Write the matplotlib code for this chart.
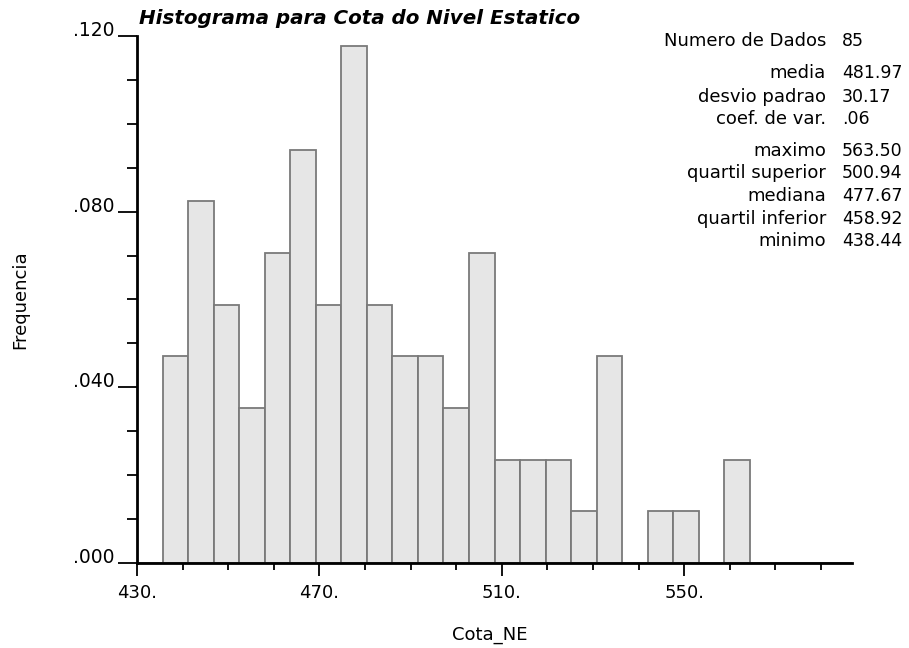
import matplotlib
matplotlib.use("Agg")
import matplotlib.pyplot as plt
from matplotlib.ticker import MultipleLocator, FixedLocator

# Dados do histograma (contagens por classe, 28 classes a partir de 430)
bin_start = 430.0
bin_width = 5.6
counts = [0, 4, 7, 5, 3, 6, 8, 5, 10, 5, 4, 4, 3, 6, 2, 2, 2, 1, 4, 0, 1, 1, 0, 2, 0, 0, 0, 0]
n_dados = 85

x_major = [430, 470, 510, 550]
x_major_labels = ["430.", "470.", "510.", "550."]
y_major = [0.0, 0.04, 0.08, 0.12]
y_major_labels = [".000", ".040", ".080", ".120"]

stats_labels = ["Numero de Dados", "media", "desvio padrao", "coef. de var.",
                "maximo", "quartil superior", "mediana", "quartil inferior", "minimo"]
stats_values = ["85", "481.97", "30.17", ".06",
                "563.50", "500.94", "477.67", "458.92", "438.44"]
stats_rows_px = [41.5, 73, 97, 119.5, 151, 173.5, 196, 219, 241.5]

W, H = 909, 648
plt.rcParams["font.family"] = "DejaVu Sans"
fig = plt.figure(figsize=(W / 100, H / 100), dpi=100)
ax = fig.add_axes([137 / W, 1 - 563 / H, (852 - 137) / W, (563 - 36) / H])

edges = [bin_start + i * bin_width for i in range(len(counts))]
freqs = [c / n_dados for c in counts]
ax.bar(edges, freqs, width=bin_width, align="edge", color="#e6e6e6",
       edgecolor="#7a7a7a", linewidth=1.3, zorder=2)

ax.set_xlim(bin_start, bin_start + bin_width * len(counts))
ax.set_ylim(0, 0.12)

for s in ["top", "right"]:
    ax.spines[s].set_visible(False)
for s in ["left", "bottom"]:
    ax.spines[s].set_linewidth(2)
    ax.spines[s].set_zorder(3)

ax.xaxis.set_major_locator(FixedLocator(x_major))
ax.set_xticklabels(x_major_labels)
ax.xaxis.set_minor_locator(MultipleLocator(10))
ax.yaxis.set_major_locator(FixedLocator(y_major))
ax.set_yticklabels(y_major_labels)
ax.yaxis.set_minor_locator(MultipleLocator(0.01))

# comprimentos em pontos (1 pt = 1.39 px a 100 dpi)
ax.tick_params(axis="x", which="major", length=9, width=1.3, labelsize=13, pad=6)
ax.tick_params(axis="x", which="minor", length=5, width=1.3)
ax.tick_params(axis="y", which="major", length=14, width=1.3, labelsize=13.5, pad=2)
ax.tick_params(axis="y", which="minor", length=7, width=1.3)
for lbl in ax.get_yticklabels():
    lbl.set_verticalalignment("baseline")

fig.text(20 / W, 1 - 300 / H, "Frequencia", rotation=90, ha="center", va="center", fontsize=13)
fig.text(490 / W, 1 - 635 / H, "Cota_NE", ha="center", va="center", fontsize=13)
fig.text(139 / W, 1 - 19 / H, "Histograma para Cota do Nivel Estatico",
         ha="left", va="center", fontsize=14.3, fontweight="bold", fontstyle="italic")

for lab, val, ypx in zip(stats_labels, stats_values, stats_rows_px):
    fig.text(826 / W, 1 - ypx / H, lab, ha="right", va="center", fontsize=13)
    fig.text(842 / W, 1 - ypx / H, val, ha="left", va="center", fontsize=12.5)

fig.savefig("out.png", dpi=100, facecolor="white")
